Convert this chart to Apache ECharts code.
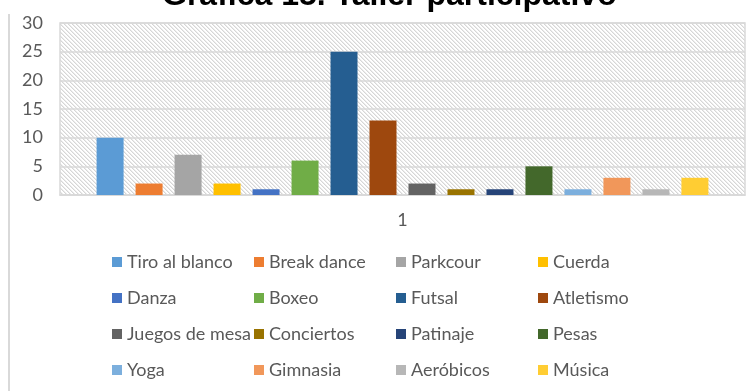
<!DOCTYPE html>
<html>
<head>
<meta charset="utf-8">
<script src="https://cdn.jsdelivr.net/npm/echarts@6/dist/echarts.min.js"></script>
<style>
  html, body { margin: 0; padding: 0; background: #fff; }
  #chart { width: 754px; height: 391px; }
</style>
</head>
<body>
<div id="chart"></div>
<script>
// Workshop participation counts, one bar per activity
const categories = ['1'];
const seriesNames = [
  'Tiro al blanco', 'Break dance', 'Parkcour', 'Cuerda',
  'Danza', 'Boxeo', 'Futsal', 'Atletismo',
  'Juegos de mesa', 'Conciertos', 'Patinaje', 'Pesas',
  'Yoga', 'Gimnasia', 'Aeróbicos', 'Música'
];
const seriesValues = [10, 2, 7, 2, 1, 6, 25, 13, 2, 1, 1, 5, 1, 3, 1, 3];
const seriesColors = [
  '#5B9BD5', '#ED7D31', '#A5A5A5', '#FFC000',
  '#4472C4', '#70AD47', '#255E91', '#9E480E',
  '#636363', '#997300', '#264478', '#43682B',
  '#7CAFDD', '#F1975A', '#B7B7B7', '#FFCD33'
];
const yTicks = { min: 0, max: 30, interval: 5 };

// Diagonal hatch used as the plot-area fill
function hatchPattern() {
  const c = document.createElement('canvas');
  const n = 4;
  c.width = n; c.height = n;
  const ctx = c.getContext('2d');
  ctx.fillStyle = '#ffffff';
  ctx.fillRect(0, 0, n, n);
  for (let i = 0; i < n; i++) {
    ctx.fillStyle = '#d6d6d6';
    ctx.fillRect(i, i, 1, 1);
    ctx.fillStyle = '#ececec';
    ctx.fillRect((i + 1) % n, i, 1, 1);
  }
  return c;
}

const FONT = 'Lato';
const TEXT = '#595959';

// Legend laid out as four columns of four entries
const colLefts = [107, 249, 391, 533];
const legends = colLefts.map((x, col) => ({
  orient: 'vertical',
  left: x,
  top: 247,
  itemWidth: 10,
  itemHeight: 10,
  itemGap: 16,
  icon: 'rect',
  data: [0, 1, 2, 3].map(r => seriesNames[r * 4 + col]),
  textStyle: { color: TEXT, fontFamily: FONT, fontSize: 18, lineHeight: 20, padding: [0, 0, 0, 0] },
  selectedMode: false
}));

const chart = echarts.init(document.getElementById('chart'), null, { renderer: 'canvas' });
chart.setOption({
  animation: false,
  title: {
    text: 'Gráfica 15. Taller participativo',
    left: 157,
    top: -25,
    textStyle: { fontFamily: 'Liberation Sans', fontWeight: 'bold', fontSize: 32, color: '#000' }
  },
  legend: legends,
  graphic: [{
    type: 'line',
    shape: { x1: 9, y1: 14, x2: 9, y2: 391 },
    style: { stroke: '#d9d9d9', lineWidth: 2 },
    silent: true
  }],
  grid: {
    left: 60, right: 9, top: 23, bottom: 196,
    show: true,
    backgroundColor: { image: hatchPattern(), repeat: 'repeat' },
    borderColor: '#d9d9d9',
    borderWidth: 1.5
  },
  xAxis: {
    type: 'category',
    data: categories,
    axisLine: { lineStyle: { color: '#d9d9d9', width: 1.5 } },
    axisTick: { show: false },
    axisLabel: { color: TEXT, fontFamily: FONT, fontSize: 18, margin: 16 }
  },
  yAxis: {
    type: 'value',
    min: yTicks.min, max: yTicks.max, interval: yTicks.interval,
    axisLine: { show: false },
    axisTick: { show: false },
    splitLine: { lineStyle: { color: '#d9d9d9', width: 1.5 } },
    axisLabel: { color: TEXT, fontFamily: FONT, fontSize: 18, margin: 17 }
  },
  series: seriesNames.map((name, i) => ({
    name: name,
    type: 'bar',
    data: [seriesValues[i]],
    barWidth: 27,
    barGap: '44.4%',
    itemStyle: { color: seriesColors[i] }
  }))
});
</script>
</body>
</html>
